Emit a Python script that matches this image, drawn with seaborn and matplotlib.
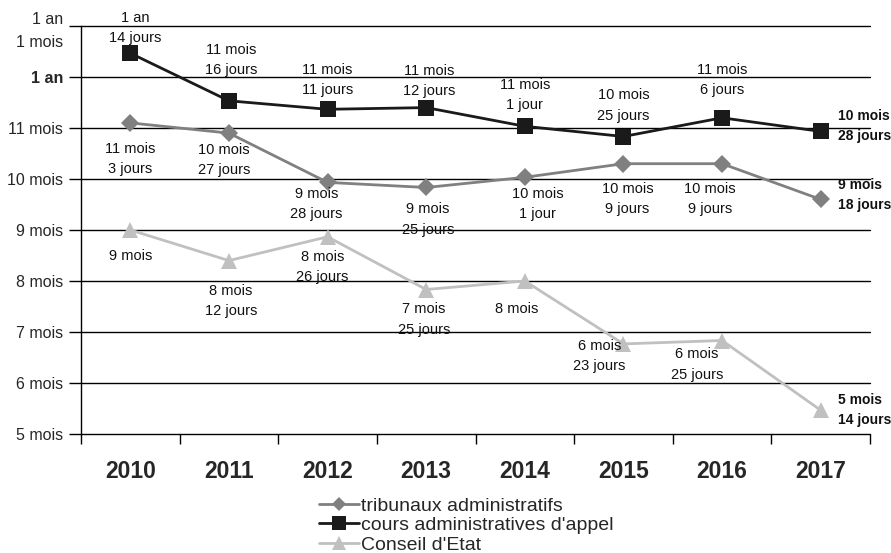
import matplotlib
matplotlib.use("Agg")
import matplotlib.pyplot as plt
import numpy as np
import pandas as pd
import seaborn as sns

years = ["2010", "2011", "2012", "2013", "2014", "2015", "2016", "2017"]
series = ["tribunaux administratifs", "cours administratives d'appel", "Conseil d'Etat"]

# délais (mois + jours)
ta_months = [11, 10, 9, 9, 10, 10, 10, 9]
ta_days = [3, 27, 28, 25, 1, 9, 9, 18]
caa_months = [12, 11, 11, 11, 11, 10, 11, 10]
caa_days = [14, 16, 11, 12, 1, 25, 6, 28]
ce_months = [9, 8, 8, 7, 8, 6, 6, 5]
ce_days = [0, 12, 26, 25, 0, 23, 25, 14]

ytick_values = [5, 6, 7, 8, 9, 10, 11, 12, 13]
ytick_labels = ["5 mois", "6 mois", "7 mois", "8 mois", "9 mois", "10 mois",
                "11 mois", "1 an", "1 an\n1 mois"]

colors = {series[0]: "#808080", series[1]: "#1a1a1a", series[2]: "#c0c0c0"}
markers = {series[0]: "D", series[1]: "s", series[2]: "^"}
sizes = {series[0]: 9, series[1]: 12, series[2]: 12}

# label offsets in pixels (dx, dy)
ta_off = [(0, -36), (-5, -27), (-11, -22), (2, -32), (13, -27), (4, -35), (-12, -35), (17, 4)]
caa_off = [(5, 25), (2, 41), (0, 29), (3, 27), (0, 31), (0, 31), (0, 38), (17, 5)]
ce_off = [(0, -26), (2, -40), (-5, -30), (-2, -30), (-8, -28), (-24, -12), (-25, -24), (17, 0)]


def fmt(m, d):
    head = "1 an" if m == 12 else f"{m} mois"
    if d == 0:
        return head
    return head + "\n" + (f"{d} jour" if d == 1 else f"{d} jours")


rows = []
for name, ms, ds in [(series[0], ta_months, ta_days),
                     (series[1], caa_months, caa_days),
                     (series[2], ce_months, ce_days)]:
    for i, (m, d) in enumerate(zip(ms, ds)):
        rows.append({"pos": i, "val": m + d / 30, "serie": name, "label": fmt(m, d)})
df = pd.DataFrame(rows)

sns.set_style("white")
plt.rcParams["font.family"] = ["Liberation Sans", "DejaVu Sans"]

fig = plt.figure(figsize=(8.91, 5.53), dpi=100)
ax = fig.add_axes([81 / 891, 1 - 434 / 553, (870 - 81) / 891, (434 - 26) / 553])

for name in series:
    sub = df[df["serie"] == name]
    sns.lineplot(data=sub, x="pos", y="val", color=colors[name], marker=markers[name],
                 markersize=sizes[name], markeredgewidth=0, linewidth=2, label=name,
                 ax=ax, zorder=3)

for name, offs in [(series[0], ta_off), (series[1], caa_off), (series[2], ce_off)]:
    sub = df[df["serie"] == name].reset_index(drop=True)
    for i, r in sub.iterrows():
        dx, dy = offs[i]
        last = i == len(sub) - 1
        ax.annotate(r["label"], (r["pos"], r["val"]), xytext=(dx, dy),
                    textcoords="offset pixels",
                    ha="left" if last else "center", va="center",
                    fontsize=10 if last else 10.5,
                    fontweight="bold" if last else "normal",
                    linespacing=1.55, color="#111111", zorder=4)

ax.set_xlim(-0.5, 7.5)
ax.set_ylim(5, 13)
for v in ytick_values:
    ax.axhline(v, color="black", lw=1, zorder=1, clip_on=False)

ax.set_yticks(ytick_values)
ax.set_yticklabels(ytick_labels, fontsize=11.5)
for t, v in zip(ax.get_yticklabels(), ytick_values):
    if v == 12:
        t.set_fontweight("bold")
    if v == 13:
        t.set_linespacing(1.6)
ax.tick_params(axis="y", direction="out", length=9, width=1, color="black", pad=4, left=True)

ax.set_xticks(np.arange(-0.5, 8, 1))
ax.set_xticklabels([])
ax.set_xticks(np.arange(len(years)), minor=True)
ax.set_xticklabels(years, minor=True, fontsize=16.5, fontweight="bold")
ax.tick_params(axis="x", which="major", direction="out", length=7, width=1, color="black", bottom=True)
ax.tick_params(axis="x", which="minor", length=0, pad=19)

ax.set_xlabel("")
ax.set_ylabel("")
for s in ["top", "right", "bottom"]:
    ax.spines[s].set_visible(False)
ax.spines["left"].set_color("black")
ax.spines["left"].set_linewidth(1)

handles, labels = ax.get_legend_handles_labels()
ax.legend(handles, labels, loc="upper left", bbox_to_anchor=(319 / 891, 1 - 497 / 553),
          bbox_transform=fig.transFigure, frameon=False, fontsize=14,
          handlelength=2.05, handletextpad=0.12, labelspacing=0.1, borderpad=0,
          borderaxespad=0, markerscale=0.8)

fig.savefig("out.png", dpi=100)
